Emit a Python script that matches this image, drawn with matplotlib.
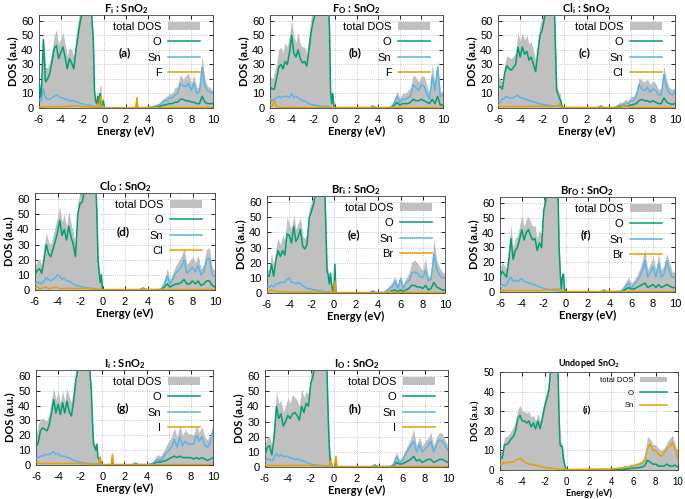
import matplotlib
matplotlib.use('Agg')
import matplotlib.pyplot as plt
from matplotlib.patches import Patch
from matplotlib.lines import Line2D

plt.rcParams['font.family'] = ['Liberation Sans', 'DejaVu Sans']
plt.rcParams['mathtext.fontset'] = 'custom'
plt.rcParams['mathtext.rm'] = 'Lato'
plt.rcParams['mathtext.bf'] = 'Lato:bold'
plt.rcParams['axes.unicode_minus'] = False

# shared energy points (eV)
E_VB = [-6.0, -5.8, -5.6, -5.4, -5.2, -5.0, -4.8, -4.6, -4.4, -4.2, -4.0, -3.8, -3.6,
        -3.4, -3.2, -3.0, -2.8, -2.6, -2.4, -2.2, -2.0, -1.8, -1.6, -1.4, -1.2, -1.0]
E_CB = [4.0, 4.5, 5.0, 5.25, 5.5, 5.75, 6.0, 6.25, 6.5, 6.75, 7.0, 7.25, 7.5, 7.75,
        8.0, 8.25, 8.5, 8.75, 9.0, 9.25, 9.5, 9.75, 10.0]
LOW = [0.3] * 23

# (a) F_i
A_GAP = [-0.9, -0.8, -0.7, -0.6, -0.5, -0.4, -0.3, -0.2, -0.1, 0.0, 0.1, 2.9, 3.0, 3.1, 3.5]
A_TOT = ([20, 10, 52, 28, 28, 32, 40, 50, 54, 44, 48, 52, 44, 36, 42, 40, 35, 50, 60, 68, 70, 70, 70, 70, 70, 50]
         + [14, 6, 4, 15, 3, 16, 15, 3, 8, 2, 0, 0, 9, 0, 0.3]
         + [0.3, 1.5, 3, 5, 7, 8, 10, 10, 14, 15, 23, 20, 22, 24, 17, 23, 14, 15, 36, 20, 15, 14, 12])
A_O = ([18, 7, 47, 18, 20, 24, 32, 41, 43, 34, 38, 42, 35, 27, 34, 31, 27, 40, 50, 60, 66, 70, 70, 70, 70, 45]
       + [12, 5, 3, 8, 2, 10, 3, 1, 5, 1, 0, 0, 3, 0, 0]
       + [0, 0.3, 1, 1.5, 2, 2.5, 3, 3, 4, 4, 6, 6, 5, 5, 4, 4, 3, 3, 8, 4, 3, 3, 3])
A_SN = ([6, 5, 13, 7, 6, 6, 7, 8, 9, 8, 7, 7, 6, 6, 5, 5, 5, 4, 4, 3, 3, 2.5, 2, 2, 1.5, 1]
        + [1, 0.5, 0.4, 0.4, 0.3, 0.3, 0.3, 0.3, 0.2, 0.2, 0.2, 0.2, 1, 0.2, 0.3]
        + [0.3, 1, 2, 3, 5, 5, 7, 7, 9, 10, 17, 15, 15, 17, 12, 17, 10, 11, 28, 15, 12, 11, 10])
A_X = ([0.5, 0.5, 0.8, 0.6, 0.6, 0.7, 0.8, 0.8, 0.9, 1, 1, 1, 1, 1.2, 1.2, 1.3, 1.5, 1.5, 1.3, 1.2, 1, 1, 0.8, 0.8, 0.6, 0.5]
       + [0.5, 0.4, 0.4, 3, 0.5, 6, 8, 2, 1, 0.3, 0.2, 0.2, 7, 0.2, 0.2]
       + LOW)

# (b) F_O
B_GAP = [-0.8, -0.6, -0.5, -0.4, -0.3, -0.2, -0.1, 0.0, 3.2, 3.5, 3.8]
B_TOT = ([22, 20, 24, 30, 40, 42, 38, 45, 42, 50, 60, 50, 45, 52, 44, 42, 42, 38, 50, 62, 70, 70, 70, 70, 70, 70]
         + [70, 70, 62, 14, 4, 12, 2, 0, 0, 2, 0.5]
         + [0.2, 0.2, 0.3, 1.5, 6, 12, 7, 10, 10, 12, 14, 23, 21, 18, 22, 22, 16, 10, 30, 17, 33, 11, 12])
B_O = ([15, 13, 13, 20, 28, 30, 27, 32, 30, 38, 50, 38, 35, 40, 34, 31, 32, 29, 39, 52, 60, 65, 70, 70, 70, 70]
       + [70, 70, 55, 12, 3, 10, 2, 0, 0, 0.5, 0]
       + [0, 0, 0, 0.5, 2, 4, 2, 3, 3, 3, 4, 6, 5, 5, 6, 5, 4, 3, 6, 3, 8, 2, 2])
B_SN = ([6, 5, 6, 7, 8, 7, 8, 8, 8, 7, 10, 7, 8, 7, 6, 5, 5, 4, 3, 2.5, 2, 2, 1.5, 1.5, 1, 1]
        + [1, 0.8, 0.6, 0.4, 0.3, 0.3, 0.2, 0.2, 0.2, 1.5, 0.3]
        + [0.2, 0.2, 0.3, 1, 4, 8, 4, 6, 6, 7, 8, 16, 14, 12, 16, 15, 10, 6, 22, 12, 28, 8, 9])
B_X = ([2, 1.5, 5, 0.6, 0.5, 0.4, 0.4, 0.4, 0.4, 0.4, 0.4, 0.3, 0.3, 0.3, 0.3, 0.3, 0.3, 0.3, 0.3, 0.3, 0.3, 0.3, 0.3, 0.3, 0.3, 0.3]
       + [0.3] * 11 + LOW)

# (c) Cl_i
C_GAP = [-0.9, -0.8, -0.7, -0.6, -0.5, -0.4, -0.3, -0.2, -0.1, 0.0, 3.0, 3.3, 3.6]
C_TOT = ([22, 20, 18, 30, 36, 35, 34, 36, 38, 52, 46, 52, 47, 50, 44, 46, 40, 33, 47, 58, 62, 68, 70, 70, 70, 70]
         + [70, 45, 15, 13, 11, 10, 6, 2, 0.5, 0.3, 0.3, 2, 0.5]
         + [0.3, 0.5, 4, 4, 6, 5, 8, 8, 12, 21, 19, 18, 20, 16, 19, 17, 13, 13, 29, 19, 14, 13, 14])
C_O = ([14, 15, 13, 24, 29, 27, 26, 28, 30, 42, 35, 42, 37, 39, 33, 35, 30, 25, 38, 50, 54, 62, 70, 70, 70, 70]
       + [68, 40, 12, 10, 8, 6, 4, 1, 0, 0, 0, 0.5, 0]
       + [0, 0.2, 1, 1, 1.5, 1.5, 2, 2.5, 3, 5, 6, 5, 5, 4, 5, 4, 3, 3, 7, 4, 3, 2.5, 3])
C_SN = ([5, 4, 6, 7, 8, 7, 7, 7, 8, 9, 7, 7, 6, 6, 5, 5, 4, 4, 3, 3, 2.5, 2, 2, 2, 1.5, 1.5]
        + [1.5, 1.5, 1, 1, 1, 1, 0.6, 0.4, 0.3, 0.2, 0.3, 1.5, 0.3]
        + [0.2, 0.3, 2, 2, 3, 3, 5, 5, 8, 16, 13, 12, 14, 11, 13, 12, 9, 9, 23, 14, 10, 9, 11])
C_X = ([2, 1, 1, 1, 1, 1, 1, 1, 1, 1, 1, 1, 1, 1, 1, 1.2, 1.2, 1.2, 1.2, 1.2, 1.2, 1, 1, 1, 1, 1]
       + [1, 1, 1.5, 1.5, 2, 3, 1, 0.4, 0.3, 0.3, 0.3, 0.3, 0.3]
       + [0.3, 0.3, 0.5, 1, 2, 1, 0.5, 0.5, 0.4, 0.4] + [0.3] * 13)

# (d) Cl_O
D_GAP = [-0.8, -0.6, -0.5, -0.4, -0.3, -0.2, -0.1, 0.0, 3.3, 3.6, 3.9]
D_TOT = ([15, 20, 20, 16, 28, 38, 32, 30, 36, 42, 48, 55, 45, 50, 42, 52, 44, 38, 30, 58, 64, 66, 70, 70, 70, 70]
         + [70, 70, 55, 24, 15, 7, 12, 0.3, 0.3, 2, 0.5]
         + [0.3, 0.3, 0.5, 2, 7, 14, 7, 11, 16, 19, 22, 28, 17, 19, 22, 18, 23, 14, 17, 27, 28, 15, 13])
D_O = ([10, 13, 14, 11, 20, 30, 24, 22, 27, 32, 38, 46, 36, 40, 33, 42, 35, 30, 22, 50, 57, 58, 66, 70, 70, 70]
       + [70, 70, 50, 20, 12, 5, 10, 0, 0, 0.5, 0]
       + [0, 0, 0, 0.5, 2, 4, 2, 3, 4, 4, 5, 7, 4, 4, 6, 4, 6, 3, 4, 6, 6, 3, 2])
D_SN = ([4, 5, 5, 4, 6, 8, 7, 6, 7, 8, 10, 9, 7, 8, 6, 6, 5, 4, 3, 3, 2.5, 2, 2, 1.5, 1.5, 1]
        + [1, 0.8, 0.6, 0.5, 0.4, 0.3, 0.3, 0.2, 0.2, 1.5, 0.3]
        + [0.3, 0.3, 0.3, 1, 4, 9, 4, 7, 11, 13, 15, 20, 11, 13, 15, 12, 16, 10, 12, 20, 21, 10, 9])
D_X = ([1, 2, 1, 1, 1.5, 2, 1, 1, 1.5, 2, 1.5, 1, 1, 1, 1, 1, 1, 1, 1, 1, 1, 1, 1, 1, 0.8, 0.8]
       + [0.6, 0.5, 0.4, 0.4, 0.3, 0.3, 0.3, 0.3, 0.3, 0.3, 0.3]
       + LOW)

# (e) Br_i
E_GAP = [-0.8, -0.7, -0.6, -0.5, -0.4, -0.3, -0.2, -0.1, 0.0, 0.1, 0.2, 3.2, 3.5, 3.8]
E_TOT = ([16, 15, 27, 18, 30, 36, 32, 38, 35, 50, 46, 42, 52, 42, 46, 50, 38, 36, 40, 56, 60, 64, 70, 70, 70, 70]
         + [70, 45, 18, 15, 8, 16, 8, 3, 0.5, 20, 0.3, 0.3, 2, 0.5]
         + [0.3, 0.5, 5, 7, 11, 5, 12, 5, 10, 13, 20, 22, 20, 17, 15, 23, 11, 13, 36, 22, 17, 14, 13])
E_O = ([12, 11, 19, 11, 22, 28, 24, 28, 25, 39, 38, 33, 44, 34, 37, 42, 31, 29, 32, 50, 54, 59, 68, 70, 70, 70]
       + [70, 40, 14, 12, 6, 13, 6, 2, 0, 19, 0, 0, 0.5, 0]
       + [0, 0, 1, 1.5, 2, 1, 2, 1, 2, 3, 5, 5, 4, 4, 3, 5, 2, 3, 7, 4, 3, 2, 2])
E_SN = ([4, 4, 5, 4, 6, 6, 7, 7, 7, 9, 10, 7, 7, 6, 7, 6, 5, 4, 3, 3, 2.5, 2, 2, 1.5, 1.5, 1]
        + [1, 0.8, 0.6, 0.5, 0.4, 0.4, 0.3, 0.3, 0.2, 0.5, 0.2, 0.2, 1.5, 0.3]
        + [0.3, 0.3, 3, 4, 8, 3, 9, 3, 7, 8, 13, 14, 13, 11, 10, 15, 8, 9, 26, 16, 12, 10, 10])
E_X = ([1, 1, 2, 1.5, 1, 1, 0.8, 0.8, 0.8, 0.8, 0.8, 0.7, 0.7, 0.7, 0.7, 0.7, 0.7, 0.7, 0.7, 0.7, 0.6, 0.6, 0.6, 0.6, 0.6, 0.5]
       + [0.5, 0.5, 0.5, 0.5, 0.5, 0.5, 0.5, 0.4, 0.3, 8, 0.3, 0.3, 0.3, 0.3]
       + [0.3, 0.3, 1, 0.5, 0.4] + [0.3] * 18)

# (f) Br_O
F_GAP = [-0.8, -0.7, -0.6, -0.5, -0.4, -0.3, -0.2, -0.1, 0.0, 3.2, 3.5, 3.8]
F_TOT = ([16, 20, 18, 16, 28, 45, 30, 36, 38, 45, 52, 44, 49, 51, 47, 44, 45, 36, 42, 38, 62, 68, 70, 70, 70, 70]
         + [70, 70, 35, 17, 3, 12, 14, 3, 0.3, 0.3, 2, 0.5]
         + [0.3, 0.3, 0.5, 3, 7, 10, 6, 8, 11, 15, 21, 29, 15, 19, 24, 15, 26, 15, 18, 26, 20, 14, 13])
F_O = ([10, 14, 12, 10, 21, 36, 22, 28, 30, 36, 42, 35, 40, 42, 38, 35, 36, 28, 33, 30, 55, 62, 70, 70, 70, 70]
       + [70, 70, 30, 14, 2, 10, 12, 2, 0, 0, 0.5, 0]
       + [0, 0, 0, 0.5, 2, 3, 2, 2, 3, 4, 5, 6, 3, 4, 5, 3, 5, 3, 4, 5, 4, 3, 3])
F_SN = ([4, 5, 4, 5, 8, 10, 7, 8, 7, 8, 9, 7, 7, 6, 6, 5, 5, 4, 3.5, 3, 2.5, 2, 2, 1.5, 1.5, 1]
        + [1, 0.8, 0.6, 0.5, 0.4, 0.3, 0.3, 0.2, 0.2, 0.2, 1.5, 0.3]
        + [0.3, 0.3, 0.5, 2, 4, 6, 3, 5, 7, 10, 14, 21, 10, 13, 17, 10, 19, 10, 12, 21, 14, 10, 10])
F_X = ([1, 1, 1, 1, 1, 1.2, 1, 1, 1, 1, 1, 1, 1, 1, 1, 1, 1, 1, 1, 1, 1.2, 1.2, 1.5, 1.5, 1.8, 2]
       + [2, 2, 2, 1, 0.5, 0.4, 0.3, 0.3, 0.3, 0.3, 0.3, 0.3]
       + LOW)

# (g) I_i
G_GAP = [-0.9, -0.8, -0.7, -0.6, -0.5, -0.4, -0.3, -0.2, -0.1, 0.0, 0.8, 0.9, 1.0, 2.7, 3.0, 3.3]
G_TOT = ([18, 28, 30, 32, 30, 30, 35, 44, 52, 44, 50, 42, 50, 43, 52, 46, 42, 52, 64, 70, 70, 70, 70, 70, 70, 52]
         + [32, 17, 15, 12, 16, 6, 6, 7, 2, 0.3, 0.3, 10, 0.3, 0.3, 2, 0.5]
         + [0.3, 2, 7, 6, 9, 13, 16, 19, 25, 19, 27, 20, 24, 21, 21, 20, 27, 22, 26, 19, 17, 20, 28])
G_O = ([12, 15, 23, 25, 24, 23, 27, 35, 44, 35, 41, 34, 42, 35, 43, 36, 33, 43, 57, 65, 70, 70, 70, 70, 70, 50]
       + [30, 14, 12, 10, 14, 5, 4, 2, 1, 0, 0, 3, 0, 0, 0.5, 0]
       + [0, 0.5, 2, 2, 2.5, 3, 4, 5, 6, 5, 6, 5, 5, 5, 5, 4, 5, 4, 5, 4, 3, 4, 5])
G_SN = ([4, 5, 6, 6, 7, 7, 7, 8, 9, 7, 8, 6, 6, 6, 5, 5, 4, 3, 3, 2, 2, 1.5, 1.5, 1, 1, 1]
        + [1, 0.8, 0.6, 0.5, 0.4, 0.3, 0.3, 0.3, 0.2, 0.2, 0.2, 0.5, 0.2, 0.2, 1.5, 0.3]
        + [0.3, 1, 4, 3, 5, 8, 10, 12, 17, 12, 19, 13, 16, 14, 14, 14, 20, 16, 19, 13, 12, 15, 23])
G_X = ([2, 1.5, 1, 1, 1, 1, 1, 1, 1, 1, 1, 1, 1, 1, 1, 1, 1, 1, 1, 1, 1, 0.8, 0.8, 0.8, 0.6, 0.6]
       + [0.5, 0.5, 0.5, 0.5, 0.5, 0.6, 2, 5, 1, 0.3, 0.3, 7, 0.3, 0.3, 0.3, 0.3]
       + LOW)

# (h) I_O
H_GAP = [-0.8, -0.6, -0.5, -0.4, -0.3, -0.2, -0.1, 0.0, 0.1, 0.2, 0.3, 3.3, 3.6, 3.9]
H_TOT = ([15, 20, 20, 14, 30, 50, 42, 44, 36, 40, 46, 42, 48, 46, 44, 40, 52, 46, 50, 48, 62, 66, 70, 70, 70, 70]
         + [70, 70, 45, 20, 8, 6, 0.5, 0.3, 0.3, 9, 0.3, 0.3, 2, 0.5]
         + [0.3, 0.3, 0.5, 3, 10, 5, 7, 11, 15, 19, 25, 14, 20, 14, 17, 19, 23, 14, 20, 23, 22, 18, 14])
H_O = ([8, 13, 14, 8, 20, 40, 32, 35, 27, 30, 34, 32, 35, 36, 34, 31, 40, 36, 42, 40, 55, 60, 70, 70, 70, 70]
       + [70, 70, 40, 17, 3, 2, 0, 0, 0, 2, 0, 0, 0.5, 0]
       + [0, 0, 0, 1, 3, 2, 2, 3, 4, 5, 7, 4, 5, 3, 4, 5, 5, 3, 4, 5, 5, 4, 3])
H_SN = ([4, 5, 5, 4, 6, 9, 7, 8, 7, 7, 7, 6, 6, 5, 5, 5, 4, 4, 3, 2.5, 2, 1.5, 1.5, 1.2, 1, 1]
        + [0.8, 0.6, 0.5, 0.4, 0.4, 0.3, 0.3, 0.2, 0.2, 0.2, 0.2, 0.2, 1.5, 0.3]
        + [0.3, 0.3, 0.5, 2, 7, 3, 4, 8, 11, 14, 17, 10, 15, 10, 12, 14, 17, 10, 15, 18, 17, 14, 11])
H_X = ([1.2, 1, 1, 1, 1, 1.2, 1, 1, 1, 1, 1, 1, 1, 1, 1, 1, 1, 1, 1, 1, 1, 0.8, 0.8, 0.8, 0.8, 0.8]
       + [0.6, 0.6, 0.6, 1, 4, 1, 0.3, 0.3, 0.3, 7, 0.3, 0.3, 0.3, 0.3]
       + LOW)

# (i) undoped
I_GAP = [-0.8, -0.7, -0.6, -0.5, -0.4, -0.3, -0.2, -0.1, 0.0, 1.0, 2.0, 3.0]
I_TOT = ([10, 9, 17, 17, 18, 20, 22, 25, 31, 33, 30, 30, 29, 30, 27, 28, 25, 29, 25, 30, 36, 40, 46, 55, 55, 55]
         + [55, 32, 15, 14, 13, 7, 4, 1, 0.3, 0.3, 0.4, 0.5]
         + [0.5, 0.9, 1.5, 2, 2, 3, 3, 3.5, 4, 5, 7, 17, 16, 13, 13, 11, 10, 11, 14, 16, 18, 13, 9])
I_O = ([7, 6, 13, 13, 14, 16, 17, 20, 26, 28, 25, 25, 24, 25, 22, 24, 21, 25, 21, 26, 32, 36, 41, 55, 55, 55]
       + [55, 29, 13, 12, 12, 6, 3, 1, 0, 0, 0, 0]
       + [0, 0.1, 0.3, 0.5, 0.5, 0.8, 1, 1, 1.2, 1.5, 2, 5, 4, 3, 3, 2, 2, 2, 3, 2, 2, 2.5, 1.5])
I_SN = ([3, 3, 4, 3.5, 4, 4, 4, 5, 5.5, 6, 5, 4, 3.5, 3, 3, 2.5, 2.5, 2, 2, 1.5, 1.5, 1, 1, 1, 0.8, 0.6]
        + [0.6, 0.5, 0.5, 0.5, 0.4, 0.4, 0.3, 0.3, 0.3, 0.3, 0.4, 0.5]
        + [0.5, 0.8, 1.2, 1.5, 1.5, 2, 2, 2.5, 3, 3.5, 4.5, 11, 13, 10, 10, 8, 7, 9, 11, 12, 14, 10, 6])

TITLES = ['F_i', 'F_O', 'Cl_i', 'Cl_O', 'Br_i', 'Br_O', 'I_i', 'I_O']
DOPANTS = ['F', 'F', 'Cl', 'Cl', 'Br', 'Br', 'I', 'I']
TAGS = ['(a)', '(b)', '(c)', '(d)', '(e)', '(f)', '(g)', '(h)', '(i)']

COL_FILL = '#c0c0c0'
COL_O = '#009e73'
COL_SN = '#56b4e9'
COL_X = '#e69f00'

# axes boxes in pixels (left, right, top, bottom)
BOXES = [(39, 213, 15, 108), (270, 443, 15, 108), (498, 675, 15, 108),
         (35, 215, 193, 290), (267, 445, 196, 293), (500, 675, 197, 292),
         (36, 213, 370, 465), (265, 448, 370, 467), (500, 678, 372, 470)]

panels = [(A_GAP, A_TOT, A_O, A_SN, A_X), (B_GAP, B_TOT, B_O, B_SN, B_X),
          (C_GAP, C_TOT, C_O, C_SN, C_X), (D_GAP, D_TOT, D_O, D_SN, D_X),
          (E_GAP, E_TOT, E_O, E_SN, E_X), (F_GAP, F_TOT, F_O, F_SN, F_X),
          (G_GAP, G_TOT, G_O, G_SN, G_X), (H_GAP, H_TOT, H_O, H_SN, H_X),
          (I_GAP, I_TOT, I_O, I_SN, None)]

W, H = 685, 499
fig = plt.figure(figsize=(W / 100, H / 100), dpi=100)

for k, (gap, tot, o, sn, x) in enumerate(panels):
    l, r, t, b = BOXES[k]
    ax = fig.add_axes([l / W, 1 - b / H, (r - l) / W, (b - t) / H])
    e = E_VB + gap + E_CB
    undoped = x is None

    ax.fill_between(e, 0, tot, color=COL_FILL, linewidth=0, zorder=1)
    ax.plot(e, o, color=COL_O, lw=1.1, zorder=3)
    if undoped:
        ax.plot(e, sn, color=COL_X, lw=1.1, zorder=3)
    else:
        ax.plot(e, sn, color=COL_SN, lw=1.1, zorder=3)
        ax.plot(e, x, color=COL_X, lw=1.1, zorder=4)

    ax.set_xlim(-6, 10)
    ax.set_xticks(range(-6, 11, 2))
    if undoped:
        ax.set_ylim(0, 50)
        ax.set_yticks(range(0, 51, 10))
        tick_fs, lab_fs = 7, 6.5
    else:
        ax.set_ylim(0, 64)
        ax.set_yticks(range(0, 61, 10))
        tick_fs, lab_fs = 8, 8
    ax.tick_params(direction='in', top=True, right=True, length=3, width=0.6,
                   labelsize=tick_fs)
    ax.tick_params(axis='x', pad=5)
    ax.tick_params(axis='y', pad=4)
    for s in ax.spines.values():
        s.set_linewidth(0.6)
        s.set_color('#444444')
    ax.grid(True, linestyle=':', color='#b5b5b5', linewidth=0.6, zorder=0)
    ax.set_axisbelow(True)

    ax.set_xlabel('Energy (eV)', fontfamily='Lato', fontweight='bold', fontsize=lab_fs, labelpad=1)
    ax.set_ylabel('DOS (a.u.)', fontfamily='Lato', fontweight='bold', fontsize=lab_fs, labelpad=2)

    anchor = (1 - 6 / (r - l), 1)
    if undoped:
        ax.set_title(r'Undoped SnO$_\mathbf{2}$', fontfamily='Lato', fontweight='bold',
                     fontsize=6.5, pad=4)
        labels = ['total DOS', 'O', 'Sn']
        handles = [Patch(facecolor=COL_FILL, edgecolor='none'),
                   Line2D([], [], color=COL_O, lw=1.1), Line2D([], [], color=COL_X, lw=1.1)]
        ax.legend(handles, labels, loc='upper right', bbox_to_anchor=anchor, frameon=False,
                  markerfirst=False, fontsize=5.5, handlelength=3.6, handletextpad=0.8,
                  labelspacing=0.7, borderaxespad=0.3, borderpad=0.3)
    else:
        el, sub = TITLES[k].split('_')
        ax.set_title(el + r'$_\mathbf{' + sub + r'}$ : SnO$_\mathbf{2}$', fontfamily='Lato',
                     fontweight='bold', fontsize=8, pad=2)
        labels = ['total DOS', 'O', 'Sn', DOPANTS[k]]
        handles = [Patch(facecolor=COL_FILL, edgecolor='none'),
                   Line2D([], [], color=COL_O, lw=1.1), Line2D([], [], color=COL_SN, lw=1.1),
                   Line2D([], [], color=COL_X, lw=1.1)]
        ax.legend(handles, labels, loc='upper right', bbox_to_anchor=anchor, frameon=False,
                  markerfirst=False, fontsize=8, handlelength=2.9, handletextpad=0.6,
                  labelspacing=0.5, borderaxespad=0.3, borderpad=0.3)
    ax.text(0.49, 0.6, TAGS[k], transform=ax.transAxes, fontfamily='Lato',
            fontweight='bold', fontsize=8.5 if not undoped else 7.5, ha='center', va='center')

fig.savefig('out.png', dpi=100)
